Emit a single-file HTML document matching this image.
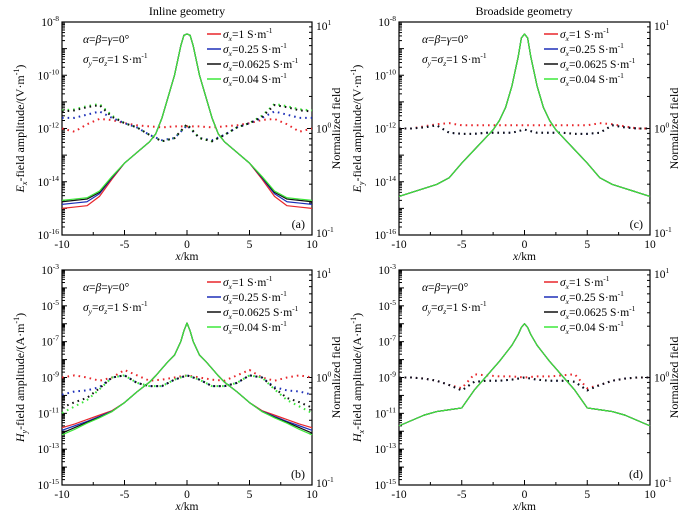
<!DOCTYPE html>
<html><head><meta charset="utf-8"><style>
html,body{margin:0;padding:0;background:#fff;}
svg{display:block;font-family:"Liberation Serif",serif;}
</style></head><body>
<svg id="fig" width="697" height="517" viewBox="0 0 697 517" xmlns="http://www.w3.org/2000/svg"></svg>
<script>
// ---- data ----
const xMain = [-10,-9,-8,-7,-6,-5,-4,-3,-2.5,-2,-1.5,-1,-0.5,-0.25,0,0.25,0.5,1,1.5,2,2.5,3,4,5,6,7,8,9,10];
const xNorm = [-10,-9,-8,-7,-6,-5,-4,-3,-2,-1,0,1,2,3,4,5,6,7,8,9,10];
const seriesLabels = ["1","0.25","0.0625","0.04"];
// panel a (Ex inline), log10 amplitude
const aRed   = [-15.0,-14.95,-14.9,-14.55,-13.9,-13.3,-12.9,-12.5,-12.2,-11.6,-10.8,-10.0,-8.9,-8.5,-8.45,-8.5,-8.9,-10.0,-10.8,-11.6,-12.2,-12.5,-12.9,-13.3,-13.9,-14.55,-14.9,-14.95,-15.0];
const aBlue  = [-14.85,-14.8,-14.75,-14.45,-13.85,-13.3,-12.9,-12.5,-12.2,-11.6,-10.8,-10.0,-8.9,-8.5,-8.45,-8.5,-8.9,-10.0,-10.8,-11.6,-12.2,-12.5,-12.9,-13.3,-13.85,-14.45,-14.75,-14.8,-14.85];
const aBlack = [-14.75,-14.7,-14.65,-14.4,-13.82,-13.3,-12.9,-12.5,-12.2,-11.6,-10.8,-10.0,-8.9,-8.5,-8.45,-8.5,-8.9,-10.0,-10.8,-11.6,-12.2,-12.5,-12.9,-13.3,-13.82,-14.4,-14.65,-14.7,-14.75];
const aGreen = [-14.7,-14.65,-14.6,-14.35,-13.8,-13.3,-12.9,-12.5,-12.2,-11.6,-10.8,-10.0,-8.9,-8.5,-8.45,-8.5,-8.9,-10.0,-10.8,-11.6,-12.2,-12.5,-12.9,-13.3,-13.8,-14.35,-14.6,-14.65,-14.7];
// panel a normalized (log10)
const aNRed   = [0,-0.03,0.04,0.09,0.08,0.05,0.03,0.02,0.01,0.02,0.02,0.02,0.01,0.02,0.03,0.05,0.08,0.09,0.04,-0.03,0];
const aNBlue  = [0.1,0.1,0.13,0.16,0.1,0.05,0.01,-0.06,-0.11,-0.09,0.03,-0.09,-0.11,-0.06,0.01,0.05,0.1,0.16,0.13,0.1,0.1];
const aNBlack = [0.16,0.17,0.2,0.22,0.11,0.05,0.01,-0.06,-0.12,-0.09,0.04,-0.09,-0.12,-0.06,0.01,0.05,0.11,0.22,0.2,0.17,0.16];
const aNGreen = [0.17,0.18,0.21,0.23,0.12,0.05,0.01,-0.06,-0.12,-0.09,0.04,-0.09,-0.12,-0.06,0.01,0.05,0.12,0.23,0.21,0.18,0.17];
// panel b (Hy inline)
const bRed   = [-11.8,-11.6,-11.35,-11.1,-10.85,-10.4,-9.8,-9.26,-8.9,-8.5,-8.1,-7.75,-7.0,-6.4,-5.96,-6.4,-7.0,-7.75,-8.1,-8.5,-8.9,-9.26,-9.8,-10.4,-10.85,-11.1,-11.35,-11.6,-11.8];
const bBlue  = [-11.95,-11.7,-11.45,-11.17,-10.88,-10.4,-9.8,-9.26,-8.9,-8.5,-8.1,-7.75,-7.0,-6.4,-5.96,-6.4,-7.0,-7.75,-8.1,-8.5,-8.9,-9.26,-9.8,-10.4,-10.88,-11.17,-11.45,-11.7,-11.95];
const bBlack = [-12.1,-11.8,-11.5,-11.22,-10.9,-10.4,-9.8,-9.26,-8.9,-8.5,-8.1,-7.75,-7.0,-6.4,-5.96,-6.4,-7.0,-7.75,-8.1,-8.5,-8.9,-9.26,-9.8,-10.4,-10.9,-11.22,-11.5,-11.8,-12.1];
const bGreen = [-12.2,-11.9,-11.55,-11.25,-10.9,-10.4,-9.8,-9.26,-8.9,-8.5,-8.1,-7.75,-7.0,-6.4,-5.96,-6.4,-7.0,-7.75,-8.1,-8.5,-8.9,-9.26,-9.8,-10.4,-10.9,-11.25,-11.55,-11.9,-12.2];
const bNRed   = [0,0.02,0,-0.03,0,0.07,0.02,-0.03,-0.02,0,0.02,0,-0.02,-0.03,0.02,0.07,0,-0.03,0,0.02,0];
const bNBlue  = [-0.16,-0.13,-0.12,-0.09,0,0.02,-0.05,-0.08,-0.08,-0.02,0.02,-0.02,-0.08,-0.08,-0.05,0.02,0,-0.09,-0.12,-0.13,-0.16];
const bNBlack = [-0.28,-0.23,-0.19,-0.1,0,0.02,-0.05,-0.08,-0.08,-0.02,0.02,-0.02,-0.08,-0.08,-0.05,0.02,0,-0.1,-0.19,-0.23,-0.28];
const bNGreen = [-0.33,-0.27,-0.21,-0.11,0,0.02,-0.05,-0.08,-0.08,-0.02,0.02,-0.02,-0.08,-0.08,-0.05,0.02,0,-0.11,-0.21,-0.27,-0.33];
// panel c (Ey broadside) — all series coincide
const cMain = [-14.55,-14.4,-14.25,-14.1,-13.85,-13.3,-12.8,-12.3,-12.05,-11.7,-11.2,-10.4,-9.3,-8.6,-8.45,-8.6,-9.3,-10.4,-11.2,-11.7,-12.05,-12.3,-12.8,-13.3,-13.85,-14.1,-14.25,-14.4,-14.55];
const cNRed   = [0,0,0.02,0.04,0.05,0.03,0.03,0.03,0.03,0.03,0.03,0.03,0.03,0.03,0.03,0.03,0.05,0.04,0.02,0,0];
const cNBlue  = [0,0,0.01,0.03,-0.04,-0.05,-0.05,-0.04,-0.04,-0.04,-0.01,-0.04,-0.04,-0.04,-0.05,-0.05,-0.04,0.03,0.01,0,0];
const cNBlack = [0,0,0.01,0.03,-0.04,-0.05,-0.05,-0.04,-0.04,-0.04,-0.01,-0.04,-0.04,-0.04,-0.05,-0.05,-0.04,0.03,0.01,0,0];
// panel d (Hx broadside)
const dMain = [-11.7,-11.4,-11.1,-10.9,-10.8,-10.7,-9.7,-8.9,-8.5,-8.1,-7.65,-7.2,-6.6,-6.2,-6.0,-6.2,-6.6,-7.2,-7.65,-8.1,-8.5,-8.9,-9.7,-10.7,-10.8,-10.9,-11.1,-11.4,-11.7];
const dNRed   = [0,0,-0.01,-0.03,-0.07,-0.1,0.03,0.02,0.01,0.01,0,0.01,0.01,0.02,0.03,-0.1,-0.07,-0.03,-0.01,0,0];
const dNBlue  = [0,0,-0.01,-0.03,-0.07,-0.12,-0.04,-0.03,-0.03,-0.02,0,-0.02,-0.03,-0.03,-0.04,-0.12,-0.07,-0.03,-0.01,0,0];
const dNBlack = [0,0,-0.01,-0.03,-0.07,-0.12,-0.04,-0.03,-0.03,-0.02,0,-0.02,-0.03,-0.03,-0.04,-0.12,-0.07,-0.03,-0.01,0,0];

const colors = ["#e8262b","#1d2fb8","#111111","#3de83a"];
const NS = "http://www.w3.org/2000/svg";
const svg = document.getElementById("fig");
function mk(tag, attrs, parent){const e=document.createElementNS(NS,tag);for(const k in attrs)e.setAttribute(k,attrs[k]);(parent||svg).appendChild(e);return e;}

function panel(cfg){
  const g = mk("g",{});
  
  
  const L=cfg.L,R=cfg.R,T=cfg.T,B=cfg.B;
  const px = x => L + (x+10)/20*(R-L);
  const py = v => T + (cfg.top - v)/(cfg.top - cfg.bot)*(B-T);
  const pn = v => T + (1 - v)/2*(B-T);
  const fr = mk("rect",{x:L,y:T,width:R-L,height:B-T,fill:"none",stroke:"#000","stroke-width":1.2},g);
  
  
  for(let d=cfg.bot; d<cfg.top; d++){
    for(let m=1;m<10;m++){
      const y=py(d+Math.log10(m));
      const len = m===1?5:3;
      mk("line",{x1:L,y1:y,x2:L+len,y2:y,stroke:"#000","stroke-width":1},g);
    }
  }
  for(let d=cfg.bot; d<=cfg.top; d+=2){
    const t=mk("text",{x:L-3,y:py(d)+4,"text-anchor":"end","font-size":11.5},g);
    
    
    t.appendChild(document.createTextNode("10"));
    const s=mk("tspan",{"font-size":7.5,dy:-5},t); s.textContent=String(d);
  }
  for(let d=-1; d<1; d++){
    for(let m=1;m<10;m++){
      const y=pn(d+Math.log10(m));
      const len = m===1?5:3;
      mk("line",{x1:R,y1:y,x2:R-len,y2:y,stroke:"#000","stroke-width":1},g);
    }
  }
  [-1,0,1].forEach(d=>{
    const t=mk("text",{x:R+4,y:pn(d)+(d===1?8:(d===-1?2:4)),"font-size":11.5},g);
    
    
    t.appendChild(document.createTextNode("10"));
    const s=mk("tspan",{"font-size":7.5,dy:-5},t); s.textContent=String(d);
  });
  for(let x=-10;x<=10;x+=2.5){
    const len = (x%5===0)?5:3;
    mk("line",{x1:px(x),y1:B,x2:px(x),y2:B-len,stroke:"#000","stroke-width":1},g);
  }
  for(let x=-10;x<=10;x+=5){
    const t=mk("text",{x:px(x),y:B+13,"text-anchor":"middle","font-size":11.5},g);
    
    
    t.textContent=String(x);
  }
  const xl=mk("text",{x:(L+R)/2,y:B+25,"text-anchor":"middle","font-size":11.5},g);
  
  
  const xi=mk("tspan",{"font-style":"italic"},xl); xi.textContent="x";
  xl.appendChild(document.createTextNode("/km"));
  const yt=mk("text",{transform:`translate(${L-38},${(T+B)/2}) rotate(-90)`,"text-anchor":"middle","font-size":12},g);
  
  
  const yi=mk("tspan",{"font-style":"italic"},yt); yi.textContent=cfg.comp[0];
  const ys=mk("tspan",{"font-style":"italic","font-size":8,dy:3},yt); ys.textContent=cfg.comp[1];
  const yr=mk("tspan",{dy:-3},yt); yr.textContent="-field amplitude/("+cfg.unit+"·m";
  const ye=mk("tspan",{"font-size":8,dy:-5},yt); ye.textContent="-1";
  const yc=mk("tspan",{dy:5},yt); yc.textContent=")";
  const rt=mk("text",{transform:`translate(${R+28},${(T+B)/2}) rotate(-90)`,"text-anchor":"middle","font-size":12},g);
  
  
  rt.textContent="Normalized field";
  cfg.norm.forEach((arr,i)=>{
    const p=mk("polyline",{points:arr.map((v,k)=>px(xNorm[k])+","+pn(v)).join(" "),fill:"none",stroke:colors[cfg.normColor[i]],"stroke-width":2,"stroke-dasharray":"1.6 4"},g);
    
    
  });
  cfg.main.forEach((arr,i)=>{
    const p=mk("polyline",{points:arr.map((v,k)=>px(xMain[k])+","+py(v)).join(" "),fill:"none",stroke:colors[i],"stroke-width":1.2,"stroke-linejoin":"round"},g);
    
    
  });
  const a1=mk("text",{x:cfg.annX,y:T+21,"font-size":11.5},g);
  
  
  a1.innerHTML='<tspan font-style="italic">α</tspan>=<tspan font-style="italic">β</tspan>=<tspan font-style="italic">γ</tspan>=0°';
  const a2=mk("text",{x:cfg.annX,y:T+41,"font-size":11.5},g);
  
  
  a2.innerHTML='<tspan font-style="italic">σ</tspan><tspan font-style="italic" font-size="7.5" dy="3">y</tspan><tspan dy="-3">=</tspan><tspan font-style="italic">σ</tspan><tspan font-style="italic" font-size="7.5" dy="3">z</tspan><tspan dy="-3">=1 S·m</tspan><tspan font-size="7.5" dy="-5">-1</tspan>';
  seriesLabels.forEach((lab,i)=>{
    const y=T+16+i*15;
    const le=mk("g",{},g);
    
    
    mk("line",{x1:cfg.legX,y1:y-4,x2:cfg.legX+14,y2:y-4,stroke:colors[i],"stroke-width":1.5},le);
    const t=mk("text",{x:cfg.legX+16,y:y,"font-size":11.5},le);
    t.innerHTML='<tspan font-style="italic">σ</tspan><tspan font-style="italic" font-size="7.5" dy="3">x</tspan><tspan dy="-3">='+lab+' S·m</tspan><tspan font-size="7.5" dy="-5">-1</tspan>';
  });
  const pl=mk("text",{x:R-7,y:B-7,"text-anchor":"end","font-size":12},g);
  
  
  pl.textContent=cfg.label;
}

panel({name:"panel-a",L:62,R:312,T:22,B:235,top:-8,bot:-16,comp:["E","x"],unit:"V",annX:83,legX:207,label:"(a)",
  main:[aRed,aBlue,aBlack,aGreen],norm:[aNRed,aNBlue,aNGreen,aNBlack],normColor:[0,1,3,2]});
panel({name:"panel-b",L:62,R:312,T:270,B:485,top:-3,bot:-15,comp:["H","y"],unit:"A",annX:83,legX:207,label:"(b)",
  main:[bRed,bBlue,bBlack,bGreen],norm:[bNRed,bNBlue,bNGreen,bNBlack],normColor:[0,1,3,2]});
panel({name:"panel-c",L:399,R:650,T:22,B:235,top:-8,bot:-16,comp:["E","y"],unit:"V",annX:422,legX:544,label:"(c)",
  main:[cMain,cMain,cMain,cMain],norm:[cNRed,cNBlue,cNBlack],normColor:[0,1,2]});
panel({name:"panel-d",L:399,R:650,T:270,B:485,top:-3,bot:-15,comp:["H","x"],unit:"A",annX:422,legX:544,label:"(d)",
  main:[dMain,dMain,dMain,dMain],norm:[dNRed,dNBlue,dNBlack],normColor:[0,1,2]});

const t1=mk("text",{x:187,y:15,"text-anchor":"middle","font-size":12});


t1.textContent="Inline geometry";
const t2=mk("text",{x:524,y:15,"text-anchor":"middle","font-size":12});


t2.textContent="Broadside geometry";
</script>
</body></html>
